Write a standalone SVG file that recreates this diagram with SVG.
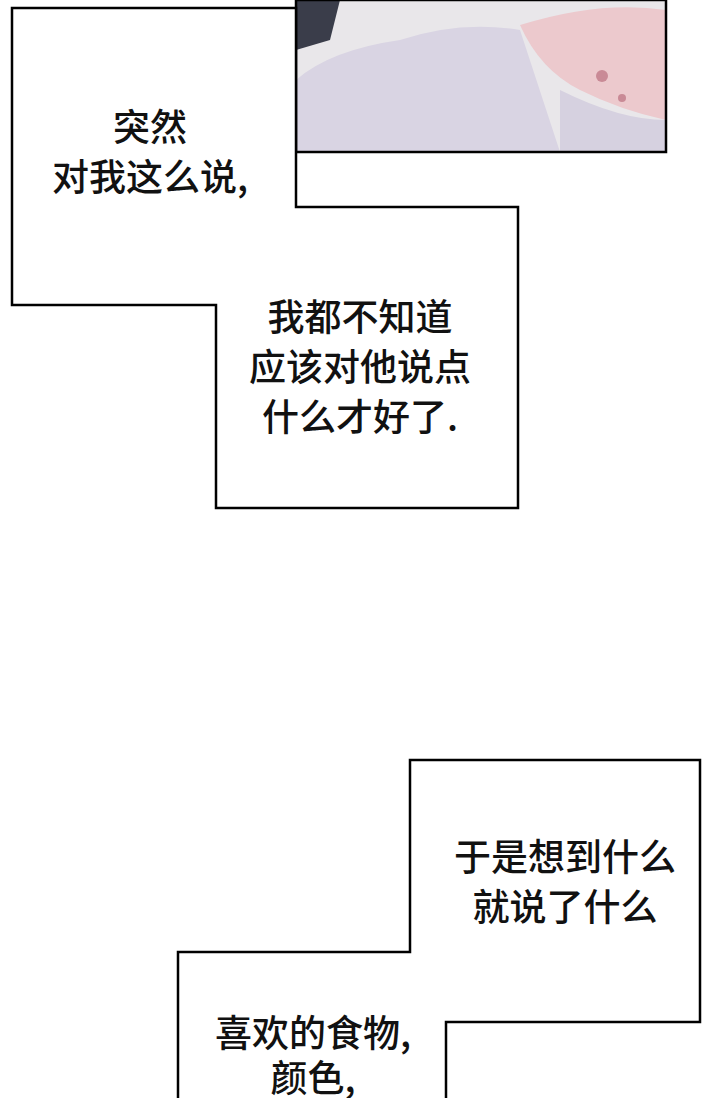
<svg xmlns="http://www.w3.org/2000/svg" width="720" height="1098" viewBox="0 0 720 1098">
<style>
.box{fill:#fff;stroke:#000;stroke-width:2.5}
.t{font-family:"Noto Sans CJK SC","Noto Sans",sans-serif;font-size:37px;font-weight:500;fill:#111;text-anchor:middle}
</style>
<rect width="720" height="1098" fill="#fff"/>
<g id="panel">
<rect x="296" y="0" width="370" height="152" fill="#e9e7ea"/>
<path d="M296,0 L340,0 L330,40 L296,50 Z" fill="#3a3d4a"/>
<path d="M296,80 Q330,50 400,40 Q460,20 520,30 L560,152 L296,152 Z" fill="#d9d4e3"/>
<path d="M520,25 Q600,0 666,10 L666,120 Q620,110 580,90 Q540,70 520,25 Z" fill="#ecc9cd"/>
<path d="M560,90 Q620,120 666,120 L666,152 L560,152 Z" fill="#d6d1e0"/>
<circle cx="602" cy="76" r="6" fill="#c98a96"/>
<circle cx="622" cy="98" r="4" fill="#c98a96"/>
<rect x="296" y="0" width="370" height="152" fill="none" stroke="#000" stroke-width="2.5"/>
</g>
<g id="caption1">
<polygon class="box" points="12,8 296,8 296,207 518,207 518,508 216,508 216,305 12,305"/>
<text class="t" x="150" y="141">突然</text>
<text class="t" x="150" y="191">对我这么说,</text>
<text class="t" x="360" y="331">我都不知道</text>
<text class="t" x="360" y="381">应该对他说点</text>
<text class="t" x="360" y="431">什么才好了.</text>
</g>
<g id="caption2">
<polygon class="box" points="410,760 700,760 700,1022 446,1022 446,1100 178,1100 178,952 410,952"/>
<text class="t" x="565" y="871">于是想到什么</text>
<text class="t" x="565" y="921">就说了什么</text>
<text class="t" x="313" y="1047">喜欢的食物,</text>
<text class="t" x="313" y="1092">颜色,</text>
</g>
<g id="connectors"/>
</svg>
